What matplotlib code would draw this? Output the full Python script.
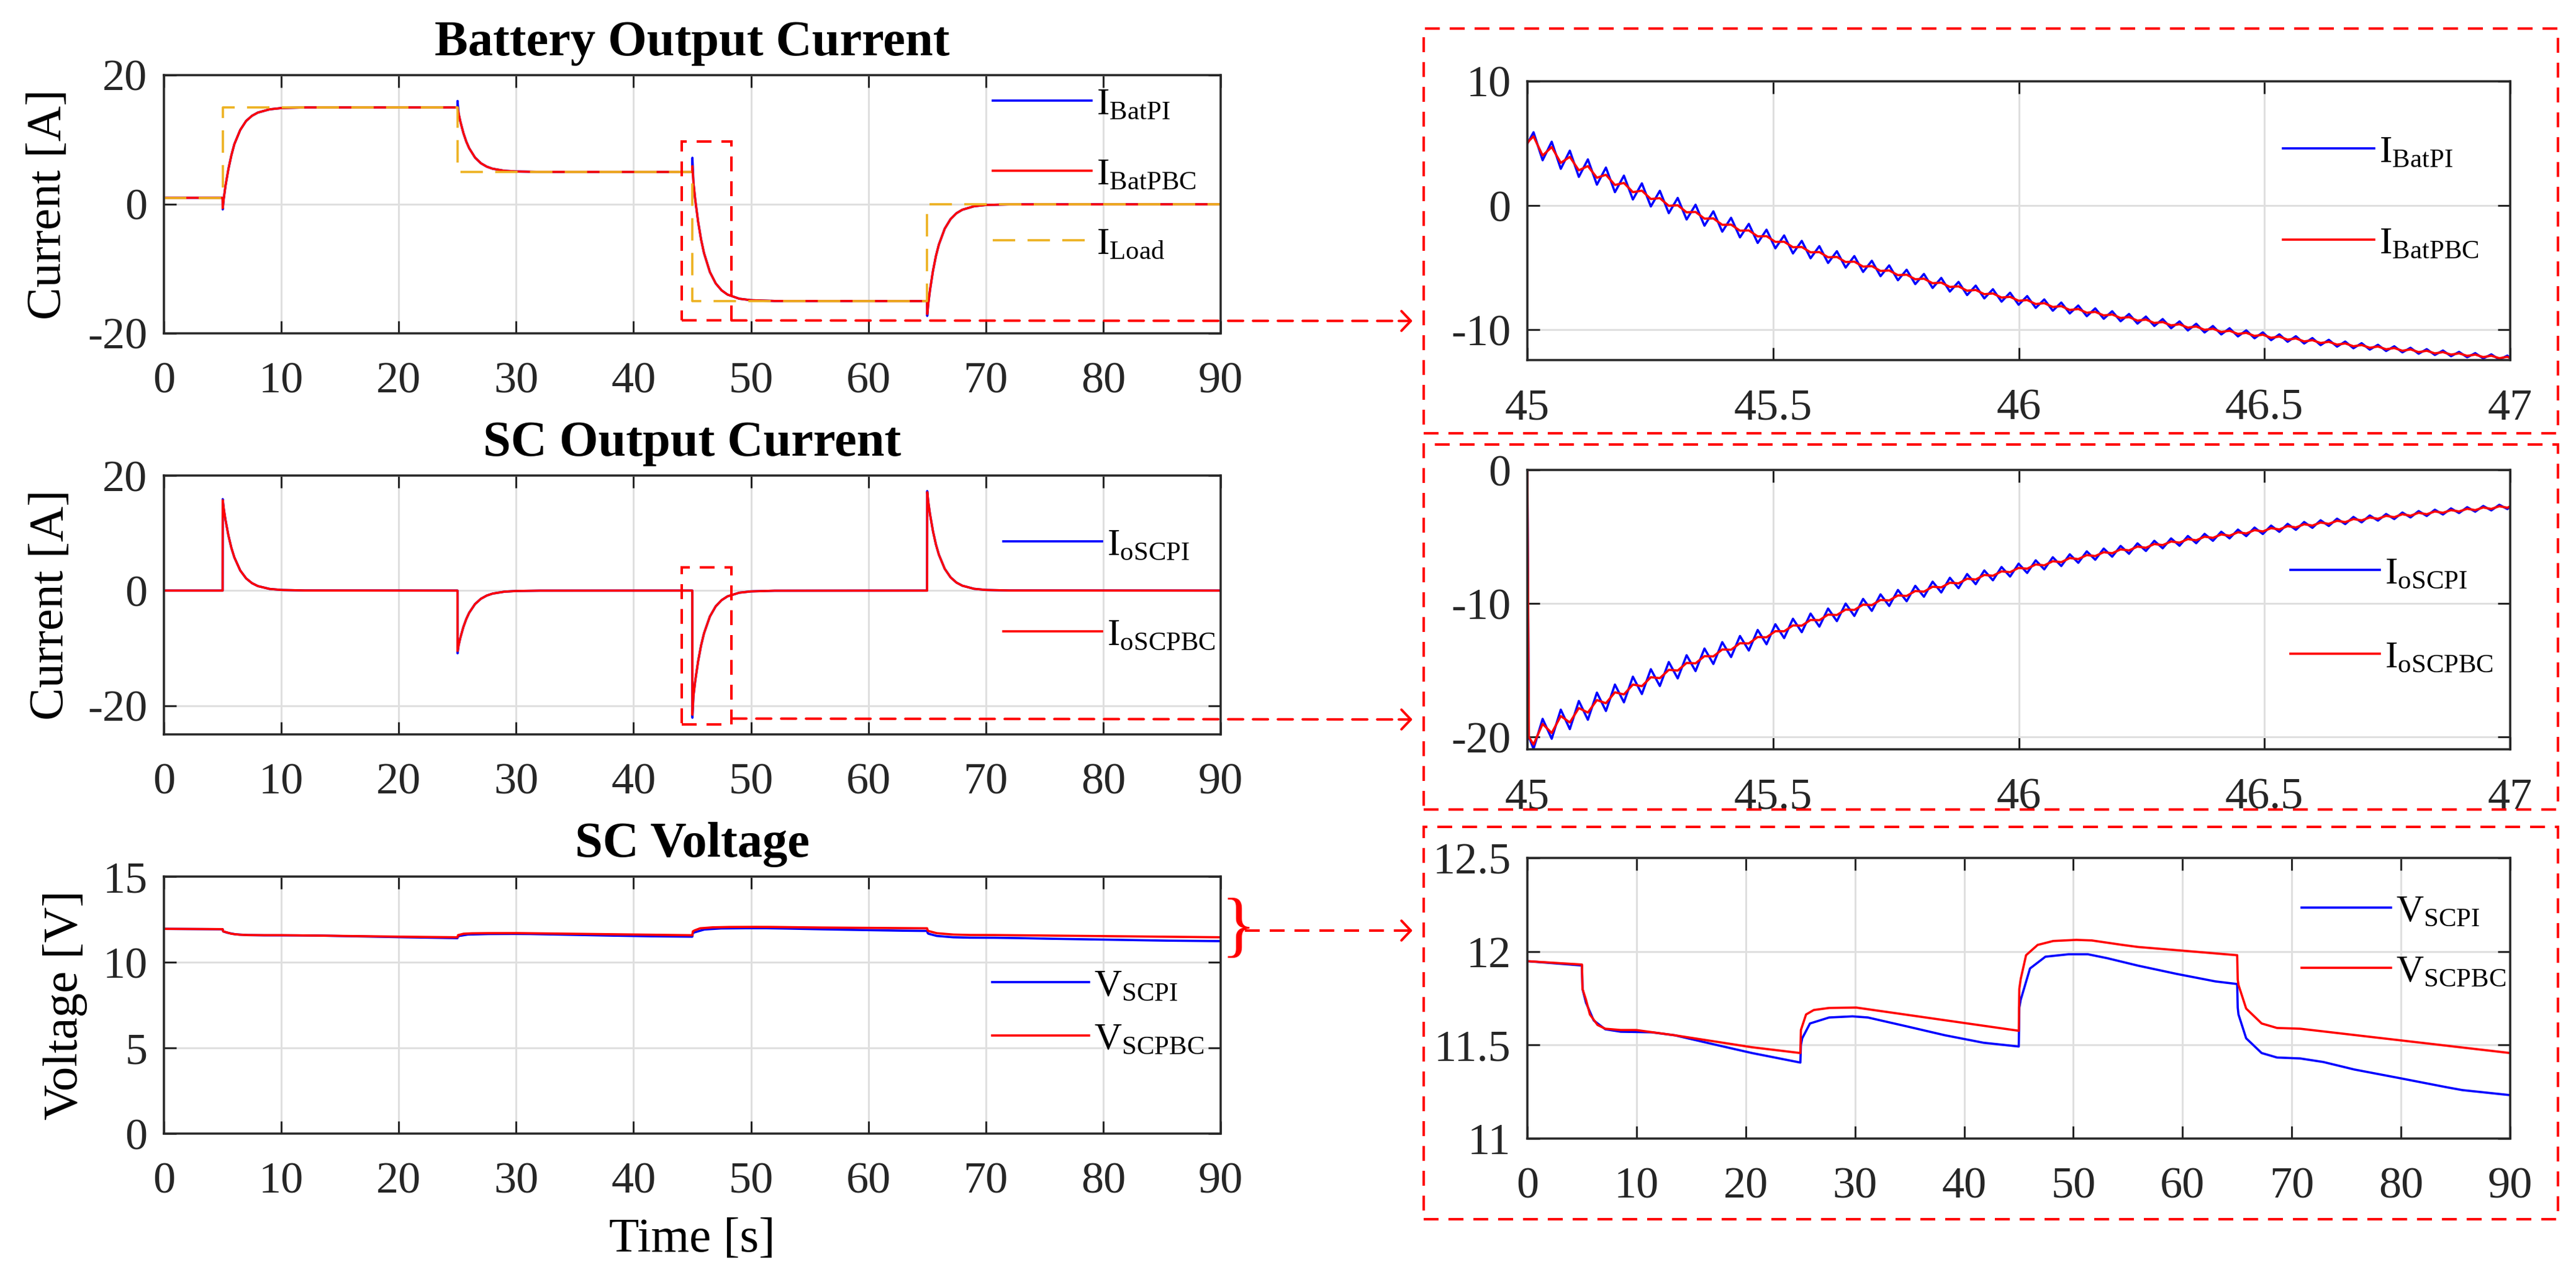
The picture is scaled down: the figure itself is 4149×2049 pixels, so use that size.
import numpy as np
import matplotlib
matplotlib.use('Agg')
import matplotlib.pyplot as plt
from matplotlib.patches import Rectangle, ConnectionPatch, FancyArrowPatch
from matplotlib.lines import Line2D
from matplotlib.legend import Legend

plt.rcParams['font.family'] = ['Liberation Serif', 'DejaVu Serif']
plt.rcParams['mathtext.fontset'] = 'custom'
plt.rcParams['mathtext.rm'] = 'Liberation Serif'
plt.rcParams['mathtext.it'] = 'Liberation Serif:italic'
plt.rcParams['mathtext.bf'] = 'Liberation Serif:bold'
plt.rcParams['axes.unicode_minus'] = False

# ---------------- full run, 0-90 s ----------------
t_left = [0, 5.0, 5.01, 5.1, 5.25, 5.5, 5.75, 6, 6.5, 7, 7.5, 8, 9, 10, 12,
          25.0, 25.01, 25.1, 25.25, 25.5, 25.75, 26, 26.5, 27, 27.5, 28, 29, 30, 32,
          45.0, 45.01, 45.1, 45.25, 45.5, 45.75, 46, 46.5, 47, 47.5, 48, 49, 50, 52,
          65.0, 65.01, 65.1, 65.25, 65.5, 65.75, 66, 66.5, 67, 67.5, 68, 69, 70, 72, 90]
i_bat_pbc = [1.0, 1.0, -0.6, 0.9, 2.9, 5.5, 7.6, 9.3, 11.5, 12.9, 13.7, 14.2, 14.7, 14.9, 15.0,
             15.0, 15.0, 14.05, 12.8, 11.07, 9.72, 8.68, 7.23, 6.35, 5.82, 5.5, 5.18, 5.07, 5.01,
             5.0, 5.9, 3.3, 0.74, -2.74, -5.46, -7.57, -10.49, -12.27, -13.34, -13.99, -14.63, -14.86, -14.98,
             -15.0, -17.0, -15.38, -13.24, -10.31, -8.02, -6.25, -3.79, -2.30, -1.39, -0.85, -0.31, -0.11, -0.02, 0.0]
i_bat_pi = [1.0, 1.0, -0.8, 0.9, 2.9, 5.5, 7.6, 9.3, 11.5, 12.9, 13.7, 14.2, 14.7, 14.9, 15.0,
            15.0, 16.0, 14.05, 12.8, 11.07, 9.72, 8.68, 7.23, 6.35, 5.82, 5.5, 5.18, 5.07, 5.01,
            5.0, 7.2, 3.3, 0.74, -2.74, -5.46, -7.57, -10.49, -12.27, -13.34, -13.99, -14.63, -14.86, -14.98,
            -15.0, -17.3, -15.38, -13.24, -10.31, -8.02, -6.25, -3.79, -2.30, -1.39, -0.85, -0.31, -0.11, -0.02, 0.0]
i_sc_pbc = [0.0, 0.0, 15.7, 14.2, 12.23, 9.53, 7.41, 5.78, 3.50, 2.12, 1.29, 0.78, 0.29, 0.11, 0.02,
            0.0, -10.5, -9.5, -8.18, -6.37, -4.96, -3.86, -2.34, -1.42, -0.86, -0.52, -0.19, -0.07, -0.01,
            0.0, -21.6, -18.3, -15.7, -12.25, -9.53, -7.43, -4.51, -2.73, -1.66, -1.0, -0.37, -0.14, -0.02,
            0.0, 17.1, 15.38, 13.24, 10.31, 8.02, 6.25, 3.79, 2.30, 1.39, 0.85, 0.31, 0.11, 0.02, 0.0]
i_sc_pi = [0.0, 0.0, 15.9, 14.2, 12.23, 9.53, 7.41, 5.78, 3.50, 2.12, 1.29, 0.78, 0.29, 0.11, 0.02,
           0.0, -10.9, -9.5, -8.18, -6.37, -4.96, -3.86, -2.34, -1.42, -0.86, -0.52, -0.19, -0.07, -0.01,
           0.0, -22.1, -18.3, -15.7, -12.25, -9.53, -7.43, -4.51, -2.73, -1.66, -1.0, -0.37, -0.14, -0.02,
           0.0, 17.3, 15.38, 13.24, 10.31, 8.02, 6.25, 3.79, 2.30, 1.39, 0.85, 0.31, 0.11, 0.02, 0.0]
t_load = [0, 5, 5, 25, 25, 45, 45, 65, 65, 90]
i_load = [1, 1, 15, 15, 5, 5, -15, -15, 0, 0]

t_v_pbc = [0, 5.0, 5.05, 5.37, 5.73, 6.43, 7.14, 8.55, 9.97, 13.5, 17.04, 20.57, 25.0, 25.05, 25.52,
           26.23, 27.64, 30.12, 45.0, 45.05, 45.18, 45.67, 46.73, 48.15, 50.27, 51.68, 54.51, 55.93,
           65.0, 65.05, 65.12, 65.82, 67.24, 68.65, 70.77, 90]
v_sc_pbc = [11.948, 11.93, 11.80, 11.742, 11.663, 11.607, 11.587, 11.58, 11.58, 11.552, 11.52, 11.488,
            11.457, 11.58, 11.663, 11.687, 11.698, 11.70, 11.576, 11.80, 11.853, 11.98, 12.035, 12.056,
            12.062, 12.059, 12.035, 12.024, 11.98, 11.85, 11.821, 11.695, 11.615, 11.591, 11.587, 11.457]
t_v_pi = [0, 5.0, 5.05, 5.37, 6.08, 7.14, 8.55, 11.38, 13.5, 17.04, 20.57, 25.0, 25.05, 25.17, 25.88,
          27.64, 29.77, 31.18, 34.71, 38.25, 41.78, 45.0, 45.05, 45.18, 46.03, 47.44, 49.56, 51.33,
          53.1, 55.93, 59.46, 63.0, 65.0, 65.05, 65.12, 65.82, 67.24, 68.65, 70.77, 72.89, 75.72,
          79.96, 84.2, 85.62, 90]
v_sc_pi = [11.948, 11.925, 11.80, 11.726, 11.631, 11.584, 11.571, 11.568, 11.552, 11.504, 11.457,
           11.406, 11.50, 11.536, 11.615, 11.647, 11.653, 11.647, 11.60, 11.552, 11.512, 11.492,
           11.70, 11.742, 11.909, 11.972, 11.985, 11.985, 11.964, 11.924, 11.88, 11.84, 11.826,
           11.70, 11.663, 11.536, 11.457, 11.433, 11.428, 11.409, 11.369, 11.322, 11.274, 11.259, 11.232]

# ---------------- zoom window 45-47 s (ripple extremes) ----------------
zoom_t = [45.0000,45.0030,45.0126,45.0311,45.0496,45.0680,45.0864,45.1048,45.1232,45.1416,45.1599,45.1782,45.1965,45.2148,45.2331,45.2513,45.2696,45.2878,45.3060,45.3241,45.3423,45.3604,45.3785,45.3966,45.4146,45.4327,45.4507,45.4687,45.4867,45.5047,45.5226,45.5405,45.5584,45.5763,45.5942,45.6120,45.6299,45.6477,45.6654,45.6832,45.7010,45.7187,45.7364,45.7541,45.7718,45.7894,45.8070,45.8247,45.8423,45.8598,45.8774,45.8949,45.9124,45.9299,45.9474,45.9649,45.9823,45.9997,46.0171,46.0345,46.0519,46.0692,46.0865,46.1038,46.1211,46.1384,46.1556,46.1729,46.1901,46.2073,46.2244,46.2416,46.2587,46.2758,46.2929,46.3100,46.3271,46.3441,46.3611,46.3781,46.3951,46.4121,46.4290,46.4460,46.4629,46.4798,46.4966,46.5135,46.5303,46.5471,46.5639,46.5807,46.5975,46.6142,46.6309,46.6477,46.6643,46.6810,46.6977,46.7143,46.7309,46.7475,46.7641,46.7806,46.7972,46.8137,46.8302,46.8467,46.8632,46.8796,46.8960,46.9125,46.9289,46.9452,46.9616,46.9779,46.9943,47.0000]
zoom_bat_pi = [5.00,5.20,
               5.90,3.65,5.14,2.96,4.42,2.31,3.72,1.68,3.06,1.08,
               2.41,0.49,1.79,-0.07,1.19,-0.61,0.62,-1.12,0.07,-1.62,
               -0.46,-2.10,-0.98,-2.56,-1.47,-3.01,-1.94,-3.44,-2.40,-3.85,
               -2.84,-4.24,-3.26,-4.62,-3.67,-4.99,-4.06,-5.34,-4.44,-5.68,
               -4.81,-6.01,-5.16,-6.32,-5.50,-6.63,-5.82,-6.92,-6.14,-7.20,
               -6.44,-7.47,-6.73,-7.73,-7.01,-7.98,-7.28,-8.23,-7.55,-8.46,
               -7.80,-8.68,-8.04,-8.90,-8.27,-9.11,-8.50,-9.31,-8.72,-9.50,
               -8.93,-9.69,-9.13,-9.87,-9.32,-10.05,-9.51,-10.21,-9.69,-10.37,
               -9.87,-10.53,-10.04,-10.68,-10.20,-10.83,-10.36,-10.96,-10.51,-11.10,
               -10.66,-11.23,-10.80,-11.35,-10.94,-11.48,-11.07,-11.59,-11.20,-11.70,
               -11.32,-11.81,-11.44,-11.92,-11.55,-12.02,-11.66,-12.12,-11.77,-12.21,
               -11.87,-12.30,-11.97,-12.39,-12.07,-12.27]
zoom_bat_pbc = [5.00,5.20,
                5.57,4.03,4.71,3.44,3.92,2.84,3.18,2.24,2.48,1.66,
                1.82,1.08,1.20,0.53,0.60,-0.02,0.03,-0.54,-0.51,-1.05,
                -1.03,-1.55,-1.53,-2.02,-2.00,-2.48,-2.46,-2.92,-2.91,-3.35,
                -3.33,-3.76,-3.74,-4.16,-4.13,-4.54,-4.51,-4.91,-4.87,-5.26,
                -5.22,-5.60,-5.56,-5.93,-5.88,-6.25,-6.20,-6.55,-6.50,-6.85,
                -6.79,-7.13,-7.07,-7.40,-7.34,-7.66,-7.60,-7.92,-7.85,-8.16,
                -8.09,-8.40,-8.32,-8.62,-8.55,-8.84,-8.76,-9.05,-8.97,-9.26,
                -9.17,-9.45,-9.37,-9.64,-9.55,-9.82,-9.73,-10.00,-9.91,-10.17,
                -10.07,-10.33,-10.24,-10.49,-10.39,-10.64,-10.54,-10.79,-10.69,-10.93,
                -10.83,-11.06,-10.96,-11.19,-11.09,-11.32,-11.22,-11.44,-11.34,-11.56,
                -11.46,-11.68,-11.57,-11.79,-11.68,-11.89,-11.79,-11.99,-11.89,-12.09,
                -11.99,-12.19,-12.08,-12.28,-12.17,-12.27]
zoom_sc_pi = [0.00,-20.00,-20.90,-18.65,-20.14,-17.96,-19.42,-17.31,-18.72,-16.68,-18.06,-16.08,-17.41,-15.49,-16.79,-14.93,-16.19,-14.39,-15.62,-13.88,-15.07,-13.38,-14.54,-12.90,-14.02,-12.44,-13.53,-11.99,-13.06,-11.56,-12.60,-11.15,-12.16,-10.76,-11.74,-10.38,-11.33,-10.01,-10.94,-9.66,-10.56,-9.32,-10.19,-8.99,-9.84,-8.68,-9.50,-8.37,-9.18,-8.08,-8.86,-7.80,-8.56,-7.53,-8.27,-7.27,-7.99,-7.02,-7.72,-6.77,-7.45,-6.54,-7.20,-6.32,-6.96,-6.10,-6.73,-5.89,-6.50,-5.69,-6.28,-5.50,-6.07,-5.31,-5.87,-5.13,-5.68,-4.95,-5.49,-4.79,-5.31,-4.63,-5.13,-4.47,-4.96,-4.32,-4.80,-4.17,-4.64,-4.04,-4.49,-3.90,-4.34,-3.77,-4.20,-3.65,-4.06,-3.52,-3.93,-3.41,-3.80,-3.30,-3.68,-3.19,-3.56,-3.08,-3.45,-2.98,-3.34,-2.88,-3.23,-2.79,-3.13,-2.70,-3.03,-2.61,-2.93,-2.73]
zoom_sc_pbc = [0.00,-20.00,-20.57,-19.03,-19.71,-18.44,-18.92,-17.84,-18.18,-17.24,-17.48,-16.66,-16.82,-16.08,-16.20,-15.53,-15.60,-14.98,-15.03,-14.46,-14.49,-13.95,-13.97,-13.45,-13.47,-12.98,-13.00,-12.52,-12.54,-12.08,-12.09,-11.65,-11.67,-11.24,-11.26,-10.84,-10.87,-10.46,-10.49,-10.09,-10.13,-9.74,-9.78,-9.40,-9.44,-9.07,-9.12,-8.75,-8.80,-8.45,-8.50,-8.15,-8.21,-7.87,-7.93,-7.60,-7.66,-7.34,-7.40,-7.08,-7.15,-6.84,-6.91,-6.60,-6.68,-6.38,-6.45,-6.16,-6.24,-5.95,-6.03,-5.74,-5.83,-5.55,-5.63,-5.36,-5.45,-5.18,-5.27,-5.00,-5.09,-4.83,-4.93,-4.67,-4.76,-4.51,-4.61,-4.36,-4.46,-4.21,-4.31,-4.07,-4.17,-3.94,-4.04,-3.81,-3.91,-3.68,-3.78,-3.56,-3.66,-3.44,-3.54,-3.32,-3.43,-3.21,-3.32,-3.11,-3.21,-3.01,-3.11,-2.91,-3.01,-2.81,-2.92,-2.72,-2.83,-2.73]

# ---------------- figure ----------------
W, H = 4149, 2049
DPI = 100
PT = 72.0 / DPI
fig = plt.figure(figsize=(W / DPI, H / DPI), dpi=DPI)

BLUE, RED, ORANGE = '#0000FF', '#FF0000', '#EDB120'
DARK = '#262626'


def ax_at(l, r, t, b):
    return fig.add_axes([l / W, 1 - b / H, (r - l) / W, (b - t) / H])


def style(ax, xlim, ylim, xticks, yticks, xtl, ytl):
    ax.set_xlim(xlim)
    ax.set_ylim(ylim)
    ax.set_xticks(xticks)
    ax.set_yticks(yticks)
    ax.set_xticklabels(xtl)
    ax.set_yticklabels(ytl)
    ax.tick_params(direction='in', length=20 * PT, width=3 * PT, color=DARK,
                   labelcolor=DARK, labelsize=52, top=True, right=True)
    ax.tick_params(axis='x', pad=33)
    ax.tick_params(axis='y', pad=19)
    ax.grid(True, color='#DFDFDF', lw=3 * PT)
    ax.set_axisbelow(True)
    for s in ax.spines.values():
        s.set_linewidth(3.5 * PT)
        s.set_color(DARK)


def legend_at(ax, handles, labels, x_px, ys_px, hl):
    for h, lab, y in zip(handles, labels, ys_px):
        leg = Legend(ax, [h], [lab], loc='upper left',
                     bbox_to_anchor=(x_px / W, 1 - (y - 25) / H),
                     bbox_transform=fig.transFigure, frameon=False, fontsize=44,
                     handlelength=hl, handletextpad=0.13, borderpad=0, borderaxespad=0)
        ax.add_artist(leg)


LW = 2.6
xt = list(range(0, 91, 10))
xtl = [str(v) for v in xt]

# Battery output current
a1 = ax_at(264, 1966, 121, 537)
h1, = a1.plot(t_left, i_bat_pi, color=BLUE, lw=LW)
h2, = a1.plot(t_left, i_bat_pbc, color=RED, lw=LW)
h3, = a1.plot(t_load, i_load, color=ORANGE, lw=LW, dashes=(10, 5.5))
style(a1, (0, 90), (-20, 20), xt, [-20, 0, 20], xtl, ['-20', '0', '20'])
a1.set_title('Battery Output Current', fontsize=58, fontweight='bold', pad=23)
a1.set_ylabel('Current [A]', fontsize=57)
a1.yaxis.set_label_coords(-0.0881, 0.5)
legend_at(a1, [h1, h2, h3], [r'$\mathregular{I_{BatPI}}$', r'$\mathregular{I_{BatPBC}}$',
                             r'$\mathregular{I_{Load}}$'], 1599, [166, 279, 391], 2.6)

# SC output current
a2 = ax_at(264, 1966, 766, 1183)
g1, = a2.plot(t_left, i_sc_pi, color=BLUE, lw=LW)
g2, = a2.plot(t_left, i_sc_pbc, color=RED, lw=LW)
style(a2, (0, 90), (-25, 20), xt, [-20, 0, 20], xtl, ['-20', '0', '20'])
a2.set_title('SC Output Current', fontsize=58, fontweight='bold', pad=23)
a2.set_ylabel('Current [A]', fontsize=57)
a2.yaxis.set_label_coords(-0.0858, 0.5)
legend_at(a2, [g1, g2], [r'$\mathregular{I_{oSCPI}}$', r'$\mathregular{I_{oSCPBC}}$'],
          1616, [876, 1021], 2.6)

# SC voltage
a3 = ax_at(264, 1966, 1412, 1826)
k1, = a3.plot(t_v_pi, v_sc_pi, color=BLUE, lw=LW)
k2, = a3.plot(t_v_pbc, v_sc_pbc, color=RED, lw=LW)
style(a3, (0, 90), (0, 15), xt, [0, 5, 10, 15], xtl, ['0', '5', '10', '15'])
a3.set_title('SC Voltage', fontsize=58, fontweight='bold', pad=23)
a3.set_ylabel('Voltage [V]', fontsize=57)
a3.yaxis.set_label_coords(-0.0723, 0.5)
a3.set_xlabel('Time [s]', fontsize=57, va='top')
a3.xaxis.set_label_coords(0.5, -0.328)
legend_at(a3, [k1, k2], [r'$\mathregular{V_{SCPI}}$', r'$\mathregular{V_{SCPBC}}$'],
          1598, [1586, 1672], 2.55)

zxt = [45, 45.5, 46, 46.5, 47]
zxtl = ['45', '45.5', '46', '46.5', '47']

# zoom: battery current
b1 = ax_at(2460, 4043, 131, 580)
m1, = b1.plot(zoom_t, zoom_bat_pi, color=BLUE, lw=LW)
m2, = b1.plot(zoom_t, zoom_bat_pbc, color=RED, lw=LW)
style(b1, (45, 47), (-12.43, 10), zxt, [-10, 0, 10], zxtl, ['-10', '0', '10'])
legend_at(b1, [m1, m2], [r'$\mathregular{I_{BatPI}}$', r'$\mathregular{I_{BatPBC}}$'],
          3677, [243, 390], 2.4)

# zoom: SC current
b2 = ax_at(2460, 4043, 757, 1207)
n1, = b2.plot(zoom_t, zoom_sc_pi, color=BLUE, lw=LW)
n2, = b2.plot(zoom_t, zoom_sc_pbc, color=RED, lw=LW)
style(b2, (45, 47), (-20.93, 0), zxt, [-20, -10, 0], zxtl, ['-20', '-10', '0'])
legend_at(b2, [n1, n2], [r'$\mathregular{I_{oSCPI}}$', r'$\mathregular{I_{oSCPBC}}$'],
          3689, [922, 1057], 2.35)

# zoom: SC voltage
b3 = ax_at(2460, 4043, 1382, 1834)
p1, = b3.plot(t_v_pi, v_sc_pi, color=BLUE, lw=LW)
p2, = b3.plot(t_v_pbc, v_sc_pbc, color=RED, lw=LW)
style(b3, (0, 90), (11, 12.5), xt, [11, 11.5, 12, 12.5], xtl, ['11', '11.5', '12', '12.5'])
legend_at(b3, [p1, p2], [r'$\mathregular{V_{SCPI}}$', r'$\mathregular{V_{SCPBC}}$'],
          3707, [1466, 1563], 2.35)

# ---------------- zoom markers and arrows ----------------
DLW = 4 * PT
DASH = (0, (6, 4))
a1.add_patch(Rectangle((44.1, -18.0), 4.24, 27.7, fill=False, ec=RED, lw=DLW, ls=DASH, clip_on=False, zorder=5))
a2.add_patch(Rectangle((44.1, -23.3), 4.24, 27.3, fill=False, ec=RED, lw=DLW, ls=DASH, clip_on=False, zorder=5))

for (y0, y1) in [(46, 698), (716, 1304), (1332, 1964)]:
    fig.add_artist(Rectangle((2293 / W, 1 - y1 / H), (4120 - 2293) / W, (y1 - y0) / H,
                             transform=fig.transFigure, fill=False, ec=RED, lw=DLW, ls=DASH))

TIP = 2275
fig.add_artist(ConnectionPatch(xyA=(48.34, -18.0), coordsA=a1.transData,
                               xyB=((TIP - 12) / W, 1 - 517 / H), coordsB=fig.transFigure,
                               color=RED, lw=DLW, ls=DASH))
fig.add_artist(ConnectionPatch(xyA=(48.34, -22.25), coordsA=a2.transData,
                               xyB=((TIP - 12) / W, 1 - 1159 / H), coordsB=fig.transFigure,
                               color=RED, lw=DLW, ls=DASH))
fig.add_artist(Line2D([2005 / W, (TIP - 12) / W], [1 - 1499 / H, 1 - 1499 / H],
                      transform=fig.transFigure, color=RED, lw=DLW, ls=DASH))
for yy in (517, 1159, 1499):
    fig.add_artist(FancyArrowPatch(((TIP - 22) / W, 1 - yy / H), (TIP / W, 1 - yy / H),
                                   transform=fig.transFigure, arrowstyle='->,head_length=0.36,head_width=0.38',
                                   mutation_scale=30, color=RED, lw=DLW, shrinkA=0, shrinkB=0))
fig.text(1994 / W, 1 - 1499 / H, '}', color=RED, fontsize=84, ha='center', va='center')

fig.savefig('out.png', dpi=DPI)
